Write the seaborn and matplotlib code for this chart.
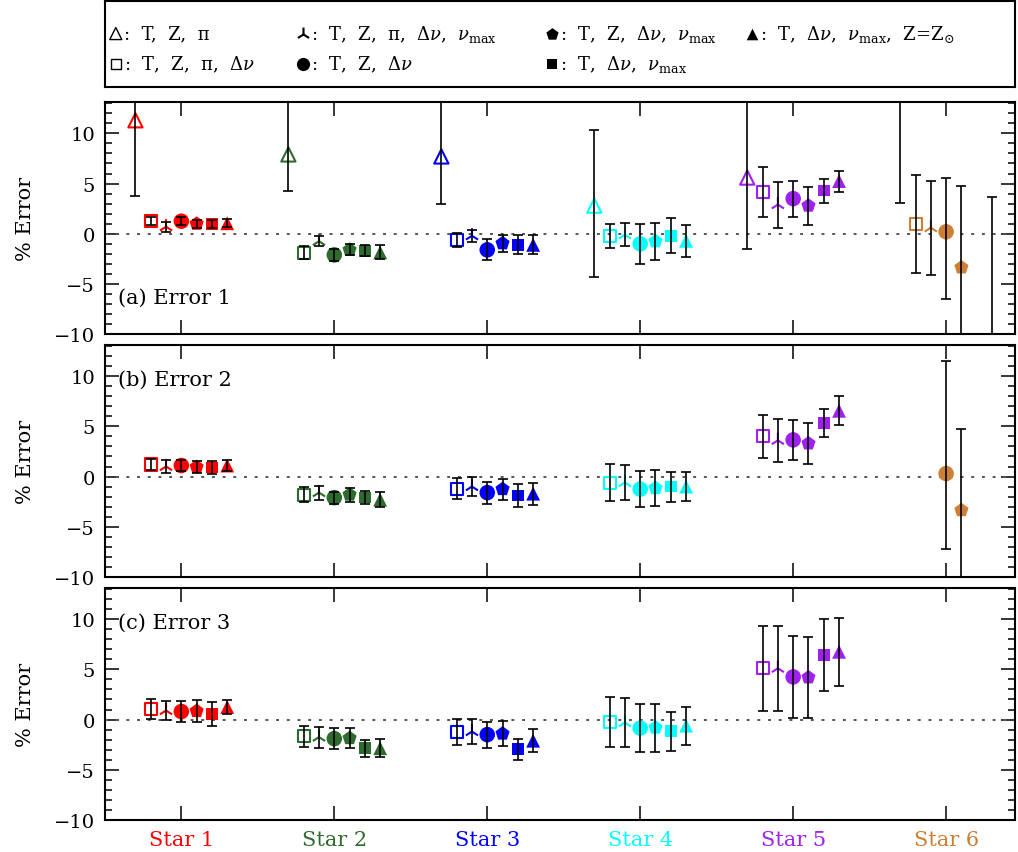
"""
Percent error of stellar parameters for six stars, three error cases,
seven combinations of observational constraints.
"""

import numpy as np
import matplotlib.pyplot as plt
import seaborn as sns
from matplotlib.ticker import MultipleLocator

sns.set_style("ticks")
plt.rcParams['font.family'] = ['DejaVu Serif']
plt.rcParams['mathtext.fontset'] = 'dejavuserif'
for key in ['text.color', 'axes.labelcolor', 'xtick.color', 'ytick.color',
            'axes.edgecolor']:
    plt.rcParams[key] = 'black'

nan = np.nan

# ---- data -------------------------------------------------------------
STARS = ['Star 1', 'Star 2', 'Star 3', 'Star 4', 'Star 5', 'Star 6']
STAR_COLORS = ['#ff0000', '#2e6b2e', '#0000ff', '#00ffff', '#a020f0', '#cd8033']

METHODS = ['T, Z, pi', 'T, Z, pi, dnu', 'T, Z, pi, dnu, numax', 'T, Z, dnu',
           'T, Z, dnu, numax', 'T, dnu, numax', 'T, dnu, numax, Z=Zsun']
LEGEND_LABELS = [':  T,  Z,  \u03c0',
                 ':  T,  Z,  \u03c0,  $\\Delta\\nu$',
                 ':  T,  Z,  \u03c0,  $\\Delta\\nu$,  $\\nu_{\\rm max}$',
                 ':  T,  Z,  $\\Delta\\nu$',
                 ':  T,  Z,  $\\Delta\\nu$,  $\\nu_{\\rm max}$',
                 ':  T,  $\\Delta\\nu$,  $\\nu_{\\rm max}$',
                 ':  T,  $\\Delta\\nu$,  $\\nu_{\\rm max}$,  Z=Z$_{\\odot}$']
PANEL_LABELS = ['(a) Error 1', '(b) Error 2', '(c) Error 3']

# values per method (order of METHODS), one entry per star
# errors: number = symmetric, tuple = (lower, upper)
ERR1_VALUES = [
    [11.3, 7.9, 7.7, 2.8, 5.6, 15.0],
    [1.3, -1.9, -0.6, -0.2, 4.15, 1.0],
    [0.7, -0.75, -0.2, -0.1, 2.9, 0.6],
    [1.25, -2.1, -1.6, -1.0, 3.5, 0.2],
    [1.0, -1.6, -0.95, -0.75, 2.8, -3.35],
    [1.0, -1.7, -1.1, -0.2, 4.3, nan],
    [1.05, -1.85, -1.1, -0.7, 5.25, -12.0],
]
ERR1_ERRORS = [
    [7.5, (3.6, 6.0), (4.7, 6.0), (7.1, 7.5), (7.1, 8.0), (11.9, 12.0)],
    [0.4, 0.65, 0.7, 1.2, 2.45, 4.9],
    [0.5, 0.5, 0.6, 1.15, 2.3, 4.7],
    [0.4, 0.6, 1.05, 2.0, 1.8, (6.7, 5.4)],
    [0.4, 0.55, 0.85, 1.85, 1.9, 8.15],
    [0.4, 0.55, 0.95, 1.75, 1.2, nan],
    [0.4, 0.7, 0.95, 1.6, 1.05, 15.7],
]

ERR2_VALUES = [
    [nan, nan, nan, nan, nan, nan],
    [1.2, -1.8, -1.2, -0.6, 4.0, nan],
    [1.0, -1.6, -1.0, -0.6, 3.6, nan],
    [1.1, -2.1, -1.6, -1.25, 3.65, 0.3],
    [0.95, -1.8, -1.25, -1.15, 3.3, -3.35],
    [0.9, -2.1, -1.9, -1.0, 5.35, nan],
    [1.1, -2.3, -1.7, -1.0, 6.55, nan],
]
ERR2_ERRORS = [
    [nan, nan, nan, nan, nan, nan],
    [0.5, 0.75, 1.05, 1.85, 2.15, nan],
    [0.6, 0.7, 0.95, 1.75, 2.15, nan],
    [0.5, 0.6, 1.1, 1.8, 2.0, (7.5, 11.2)],
    [0.55, 0.7, 1.05, 1.8, 2.05, 8.1],
    [0.65, 0.65, 1.15, 1.5, 1.4, nan],
    [0.5, 0.75, 1.1, 1.45, 1.45, nan],
]

ERR3_VALUES = [
    [nan, nan, nan, nan, nan, nan],
    [1.05, -1.65, -1.2, -0.25, 5.1, nan],
    [0.9, -1.75, -1.2, -0.3, 5.1, nan],
    [0.8, -1.9, -1.5, -0.85, 4.25, nan],
    [0.85, -1.85, -1.4, -0.8, 4.2, nan],
    [0.55, -2.85, -2.95, -1.15, 6.45, nan],
    [1.25, -2.85, -2.1, -0.6, 6.75, nan],
]
ERR3_ERRORS = [
    [nan, nan, nan, nan, nan, nan],
    [0.95, 1.05, 1.3, 2.45, 4.2, nan],
    [0.95, 1.05, 1.25, 2.45, 4.2, nan],
    [1.05, 1.05, 1.3, 2.4, 4.05, nan],
    [1.05, 1.0, 1.25, 2.4, 4.05, nan],
    [1.15, 0.85, 1.05, 1.95, 3.6, nan],
    [0.7, 0.9, 1.15, 1.9, 3.4, nan],
]

PANELS = [(ERR1_VALUES, ERR1_ERRORS), (ERR2_VALUES, ERR2_ERRORS),
          (ERR3_VALUES, ERR3_ERRORS)]

# ---- style ------------------------------------------------------------
OFFSETS = [-0.3, -0.2, -0.1, 0.0, 0.1, 0.2, 0.3]
MARKERS = ['^', 's', '2', 'o', 'p', 's', '^']
FILLED = [False, False, True, True, True, True, True]
SIZES = [105, 75, 120, 125, 115, 70, 100]
LEG_SIZES = [75, 50, 100, 90, 85, 60, 70]


def split_errors(errors):
    lo, hi = [], []
    for e in errors:
        if isinstance(e, tuple):
            lo.append(e[0])
            hi.append(e[1])
        else:
            lo.append(e)
            hi.append(e)
    return np.array(lo, float), np.array(hi, float)


def draw_panel(ax, values, errors, label, label_y):
    stars = np.arange(1, len(STARS) + 1)
    ax.axhline(0, color='#555555', ls=(0, (1.5, 4)), lw=1.4, zorder=1)
    for m in range(len(METHODS)):
        y = np.array(values[m], float)
        lo, hi = split_errors(errors[m])
        ok = ~np.isnan(y)
        if not ok.any():
            continue
        x = stars[ok] + OFFSETS[m]
        cols = [STAR_COLORS[i] for i in np.where(ok)[0]]
        if MARKERS[m] == '2':
            ax.scatter(x, y[ok], marker='2', s=SIZES[m], c=cols,
                       linewidths=1.5, zorder=3)
        elif FILLED[m]:
            sns.scatterplot(x=x, y=y[ok], hue=[STARS[i] for i in np.where(ok)[0]],
                            palette=dict(zip(STARS, STAR_COLORS)),
                            marker=MARKERS[m], s=SIZES[m], linewidth=0,
                            legend=False, ax=ax, zorder=3)
        else:
            ax.scatter(x, y[ok], marker=MARKERS[m], s=SIZES[m],
                       facecolors='none', edgecolors=cols, linewidths=1.5,
                       zorder=3)
        eok = ok & ~np.isnan(lo)
        ax.errorbar(stars[eok] + OFFSETS[m], y[eok], yerr=[lo[eok], hi[eok]],
                    fmt='none', ecolor='black', elinewidth=1.2, capsize=3.5,
                    capthick=1.2, zorder=4)

    ax.set_xlim(0.5, 6.45)
    ax.set_ylim(-10, 13.1)
    ax.set_xticks(stars)
    ax.yaxis.set_major_locator(MultipleLocator(5))
    ax.yaxis.set_minor_locator(MultipleLocator(1))
    ax.tick_params(which='both', direction='in', top=True, right=True,
                   width=1.1, labelsize=14)
    ax.tick_params(which='major', length=10, pad=7)
    ax.tick_params(which='minor', length=5)
    ax.set_yticks([-10, -5, 0, 5, 10])
    ax.set_yticklabels(['\u221210', '\u22125', '0', '5', '10'])
    for sp in ax.spines.values():
        sp.set_linewidth(1.5)
    ax.set_ylabel('% Error', fontsize=15, labelpad=14)
    ax.text(0.014, label_y, label, transform=ax.transAxes, fontsize=15,
            va='center', ha='left')


fig = plt.figure(figsize=(10.18, 8.53), dpi=100)

# legend box
lax = fig.add_axes([0.103, 0.897, 0.894, 0.1008])
lax.set_xlim(0, 1)
lax.set_ylim(0, 1)
lax.set_xticks([])
lax.set_yticks([])
for sp in lax.spines.values():
    sp.set_linewidth(1.5)
    sp.set_visible(True)
leg_pos = [(0.012, 0.62), (0.012, 0.27), (0.218, 0.62), (0.218, 0.27),
           (0.491, 0.62), (0.491, 0.27), (0.711, 0.62)]
for m, (lx, ly) in enumerate(leg_pos):
    if FILLED[m] or MARKERS[m] == '2':
        lax.scatter([lx], [ly], marker=MARKERS[m], s=LEG_SIZES[m], c='black',
                    linewidths=1.5 if MARKERS[m] == '2' else 0)
    else:
        lax.scatter([lx], [ly], marker=MARKERS[m], s=LEG_SIZES[m],
                    facecolors='none', edgecolors='black', linewidths=1.0)
    lax.text(lx + 0.009, ly, LEGEND_LABELS[m], fontsize=13, va='center',
             ha='left')

bottoms = [0.607, 0.3224, 0.0375]
label_ys = [0.16, 0.853, 0.853]
axes = []
for k, (vals, errs) in enumerate(PANELS):
    ax = fig.add_axes([0.103, bottoms[k], 0.894, 0.272])
    draw_panel(ax, vals, errs, PANEL_LABELS[k], label_ys[k])
    axes.append(ax)

for ax in axes[:-1]:
    ax.set_xticklabels([])
axes[-1].set_xticklabels(STARS, fontsize=15)
for lab, col in zip(axes[-1].get_xticklabels(), STAR_COLORS):
    lab.set_color(col)

fig.savefig('out.png', dpi=100)
